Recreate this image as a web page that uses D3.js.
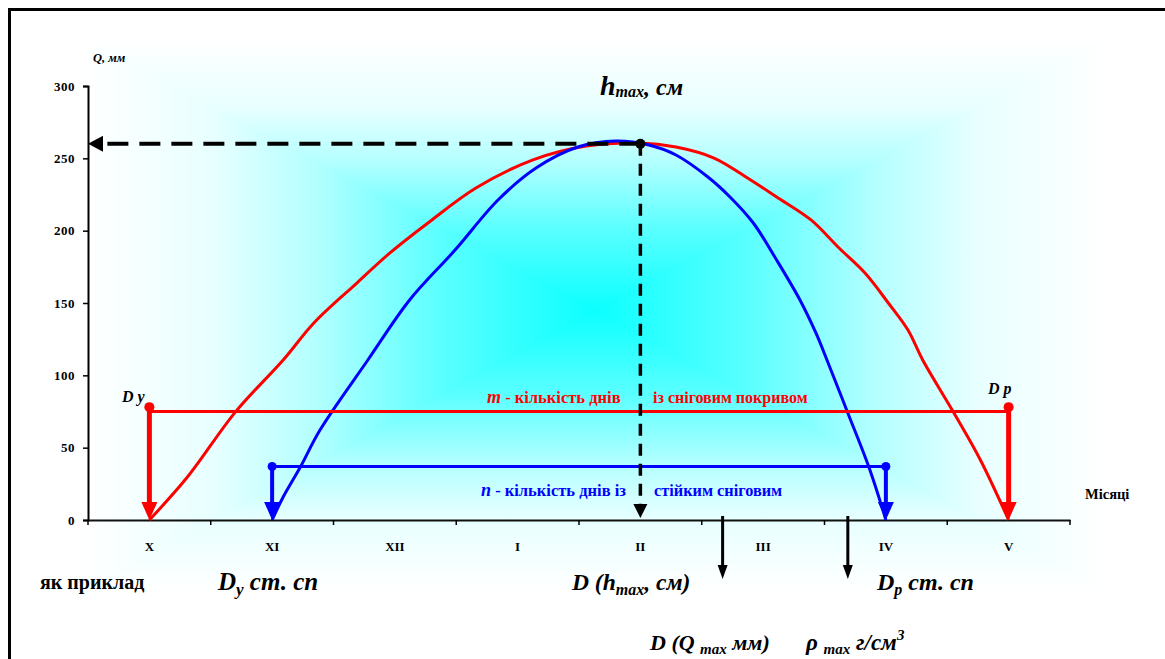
<!DOCTYPE html>
<html><head><meta charset="utf-8">
<script src="https://cdn.jsdelivr.net/npm/d3@7"></script>
<style>
html,body{margin:0;padding:0;background:#fff;}
svg{display:block;font-family:"Liberation Serif","Times New Roman",serif;}
</style></head>
<body><svg id="c" width="1165" height="659"></svg>
<script>
// ---------- data ----------
const months = ["X","XI","XII","I","II","III","IV","V"];
const yTicks = [0,50,100,150,200,250,300];
// red curve: snow cover depth (month index, value)
const redMonth = [0,0.31,0.70,1.09,1.34,1.69,1.96,2.28,2.66,3.12,3.56,3.99,4.29,4.60,4.86,5.11,5.39,5.61,5.83,6.02,6.18,6.30,6.55,6.77,7.0];
const redValue = [0,29.7,74.6,110.6,136.2,163.8,184.6,206.0,229.5,248.8,258.5,260.6,257.8,250.2,237.1,223.3,207.4,188.7,170.7,150.0,131.3,110.6,74.6,41.5,0];
// blue curve: stable snow cover
const blueMonth = [1.0,1.09,1.23,1.39,1.78,2.12,2.49,2.84,3.15,3.49,3.80,4.07,4.29,4.55,4.73,4.92,5.11,5.30,5.43,5.52,5.69,5.87,6.0];
const blueValue = [0,15.9,36.6,62.2,110.6,152.1,186.6,221.2,243.3,257.8,262.0,259.2,252.3,237.1,223.3,205.3,179.7,152.1,129.3,110.6,74.0,34.6,0];
const mLevel = 75, mStart = 0, mEnd = 7, mDot = 78;
const nLevel = 37, nStart = 1, nEnd = 6, nDot = 37;
const hMax = 260, hMaxMonth = 4;
const markerMonths = [4.67, 5.69];

// ---------- layout ----------
const svg = d3.select("#c");
const x = d3.scaleLinear().domain([-0.5, 7.5]).range([88, 1070]);
const y = d3.scaleLinear().domain([0, 300]).range([520, 86]);

// background rectangular "from centre" gradient
const defs = svg.append("defs");
const gx0 = 85, gx1 = 1105, gy0 = 40, gy1 = 590, gcx = 595, gcy = 310;
const stops = [[0,"#0cffff"],[0.3,"#5affff"],[0.55,"#b4ffff"],[0.75,"#e8ffff"],[1,"#ffffff"]];
function grad(id, x1, y1, x2, y2, mirror){
  const g = defs.append("linearGradient").attr("id", id).attr("gradientUnits","userSpaceOnUse")
    .attr("x1",x1).attr("y1",y1).attr("x2",x2).attr("y2",y2);
  if (mirror){
    stops.slice().reverse().forEach(s => g.append("stop").attr("offset", (1-s[0])/2).attr("stop-color", s[1]));
    stops.forEach(s => g.append("stop").attr("offset", 0.5 + s[0]/2).attr("stop-color", s[1]));
  } else {
    stops.slice().reverse().forEach(s => g.append("stop").attr("offset", 1-s[0]).attr("stop-color", s[1]));
  }
}
grad("gh", gx0, 0, gx0 + 2*(gcx-gx0), 0, true);
grad("gt", 0, gy0, 0, gcy, false);
grad("gb", 0, gy1, 0, gcy, false);
svg.append("rect").attr("x",gx0).attr("y",gy0).attr("width",gx1-gx0).attr("height",gy1-gy0).attr("fill","url(#gh)");
svg.append("path").attr("d",`M${gx0},${gy0}L${gx1},${gy0}L${gcx},${gcy}Z`).attr("fill","url(#gt)");
svg.append("path").attr("d",`M${gx0},${gy1}L${gx1},${gy1}L${gcx},${gcy}Z`).attr("fill","url(#gb)");

// frame
svg.append("rect").attr("x",9.5).attr("y",9.5).attr("width",1200).attr("height",700)
  .attr("fill","none").attr("stroke","#000").attr("stroke-width",3);

// axes
const yAxis = svg.append("g").attr("transform","translate(88,0)")
  .call(d3.axisLeft(y).tickValues(yTicks).tickSize(5).tickFormat(d3.format("d")));
yAxis.select(".domain").attr("stroke","#000").attr("stroke-width",2);
yAxis.selectAll(".tick line").attr("stroke","#000").attr("stroke-width",1.5);
yAxis.selectAll("text").attr("font-family","Liberation Serif").attr("font-weight","bold")
  .attr("font-size",13).attr("letter-spacing","0.5px").attr("x",-13).attr("fill","#000");

const xb = d3.scaleBand().domain(months).range([88,1070]);
const xAxis = svg.append("g").attr("transform","translate(0,520)")
  .call(d3.axisBottom(xb).tickSize(0).tickPadding(22));
xAxis.select(".domain").attr("stroke","#111").attr("stroke-width",2);
xAxis.selectAll("text").attr("font-family","Liberation Serif").attr("font-weight","bold")
  .attr("font-size",13).attr("fill","#000");
// boundary ticks
svg.append("g").selectAll("line").data(d3.range(months.length+1)).join("line")
  .attr("x1", i => x(i-0.5)).attr("x2", i => x(i-0.5)).attr("y1",520).attr("y2",525)
  .attr("stroke","#000").attr("stroke-width",1.5);

// arrow heads
function arrowDown(g, cx, tipY, w, h, color){
  g.append("path").attr("d",`M${cx-w/2},${tipY-h}L${cx+w/2},${tipY-h}L${cx},${tipY}Z`).attr("fill",color);
}

// curves
const line = d3.line().x(d => x(d[0])).y(d => y(d[1])).curve(d3.curveCatmullRom);
svg.append("path").datum(redMonth.map((m,i)=>[m,redValue[i]])).attr("d",line)
  .attr("fill","none").attr("stroke","#ff0000").attr("stroke-width",3);
svg.append("path").datum(blueMonth.map((m,i)=>[m,blueValue[i]])).attr("d",line)
  .attr("fill","none").attr("stroke","#0000ff").attr("stroke-width",3);

// m line (red)
const gr = svg.append("g");
gr.append("line").attr("x1",x(mStart)).attr("x2",x(mEnd)).attr("y1",y(mLevel)).attr("y2",y(mLevel))
  .attr("stroke","#ff0000").attr("stroke-width",3);
[mStart,mEnd].forEach(m => {
  gr.append("line").attr("x1",x(m)).attr("x2",x(m)).attr("y1",y(mDot)).attr("y2",y(0)-14)
    .attr("stroke","#ff0000").attr("stroke-width",5);
  arrowDown(gr, x(m), y(0), 16, 18, "#ff0000");
  gr.append("circle").attr("cx",x(m)).attr("cy",y(mDot)).attr("r",5).attr("fill","#ff0000");
});
// n line (blue)
const gbl = svg.append("g");
gbl.append("line").attr("x1",x(nStart)).attr("x2",x(nEnd)).attr("y1",y(nLevel)).attr("y2",y(nLevel))
  .attr("stroke","#0000ff").attr("stroke-width",3);
[nStart,nEnd].forEach(m => {
  gbl.append("line").attr("x1",x(m)).attr("x2",x(m)).attr("y1",y(nDot)).attr("y2",y(0)-14)
    .attr("stroke","#0000ff").attr("stroke-width",4);
  arrowDown(gbl, x(m), y(0), 16, 18, "#0000ff");
  gbl.append("circle").attr("cx",x(m)).attr("cy",y(nDot)).attr("r",4.5).attr("fill","#0000ff");
});

// h max dashed guides
const gk = svg.append("g");
gk.append("line").attr("x1",x(hMaxMonth)).attr("x2",88+14).attr("y1",y(hMax)).attr("y2",y(hMax))
  .attr("stroke","#000").attr("stroke-width",4).attr("stroke-dasharray","21,11");
gk.append("path").attr("d",`M88,${y(hMax)}L${88+15},${y(hMax)-8}L${88+15},${y(hMax)+8}Z`).attr("fill","#000");
gk.append("line").attr("x1",x(hMaxMonth)).attr("x2",x(hMaxMonth)).attr("y1",y(hMax)).attr("y2",y(0)-12)
  .attr("stroke","#000").attr("stroke-width",3.5).attr("stroke-dasharray","12,8");
arrowDown(gk, x(hMaxMonth), y(0)-2, 14, 14, "#000");
gk.append("circle").attr("cx",x(hMaxMonth)).attr("cy",y(hMax)).attr("r",5).attr("fill","#000");

// arrows below axis
markerMonths.forEach(m => {
  gk.append("line").attr("x1",x(m)).attr("x2",x(m)).attr("y1",y(0)-4).attr("y2",566)
    .attr("stroke","#000").attr("stroke-width",3);
  arrowDown(gk, x(m), 579, 10, 14, "#000");
});

// ---------- texts ----------
const T = svg.append("g").attr("font-family","Liberation Serif").attr("font-weight","bold");
function txt(xp, yp, size, parts, fill, italic){
  const t = T.append("text").attr("x",xp).attr("y",yp).attr("font-size",size)
    .attr("fill",fill||"#000").attr("font-style",italic?"italic":"normal").attr("xml:space","preserve");
  parts.forEach(p => {
    const s = t.append("tspan").text(p.t);
    if (p.size) s.attr("font-size",p.size);
    if (p.dy) s.attr("dy",p.dy);
    if (p.it !== undefined) s.attr("font-style", p.it ? "italic":"normal");
  });
  return t;
}
txt(93, 62, 12.5, [{t:"Q, мм"}], "#000", true);
txt(600, 95, 28, [{t:"h"},{t:"max",size:16,dy:2},{t:", см",size:24,dy:-2}], "#000", true);
txt(122, 402, 16, [{t:"D y"}], "#000", true);
txt(988, 394, 16, [{t:"D p"}], "#000", true);
txt(487, 403, 16.5, [{t:"m",it:true,size:18},{t:" - кількість днів",it:false}], "#ff0000", false);
txt(653, 403, 16, [{t:"із сніговим покривом"}], "#ff0000", false);
txt(481, 496, 16.5, [{t:"n",it:true,size:18},{t:" - кількість днів із",it:false}], "#0000ff", false);
txt(654, 496, 16.3, [{t:"стійким сніговим"}], "#0000ff", false);
txt(1085, 499, 14.5, [{t:"Місяці"}], "#000", false);
txt(40, 589, 20, [{t:"як приклад"}], "#000", false);
txt(218, 590, 25, [{t:"D"},{t:"y",size:17,dy:5},{t:" ст. сп",dy:-5}], "#000", true);
txt(572, 590, 23.5, [{t:"D (h"},{t:"max",size:16,dy:5},{t:", см)",dy:-5}], "#000", true);
txt(877, 590, 24, [{t:"D"},{t:"p",size:16,dy:5},{t:" ст. сп",dy:-5}], "#000", true);
txt(650, 650, 22, [{t:"D (Q "},{t:"max",size:15,dy:4},{t:" мм)",dy:-4}], "#000", true);
txt(806, 650, 23, [{t:"ρ "},{t:"max",size:15,dy:4},{t:" г/см",dy:-4},{t:"3",size:15,dy:-10}], "#000", true);
</script></body></html>
